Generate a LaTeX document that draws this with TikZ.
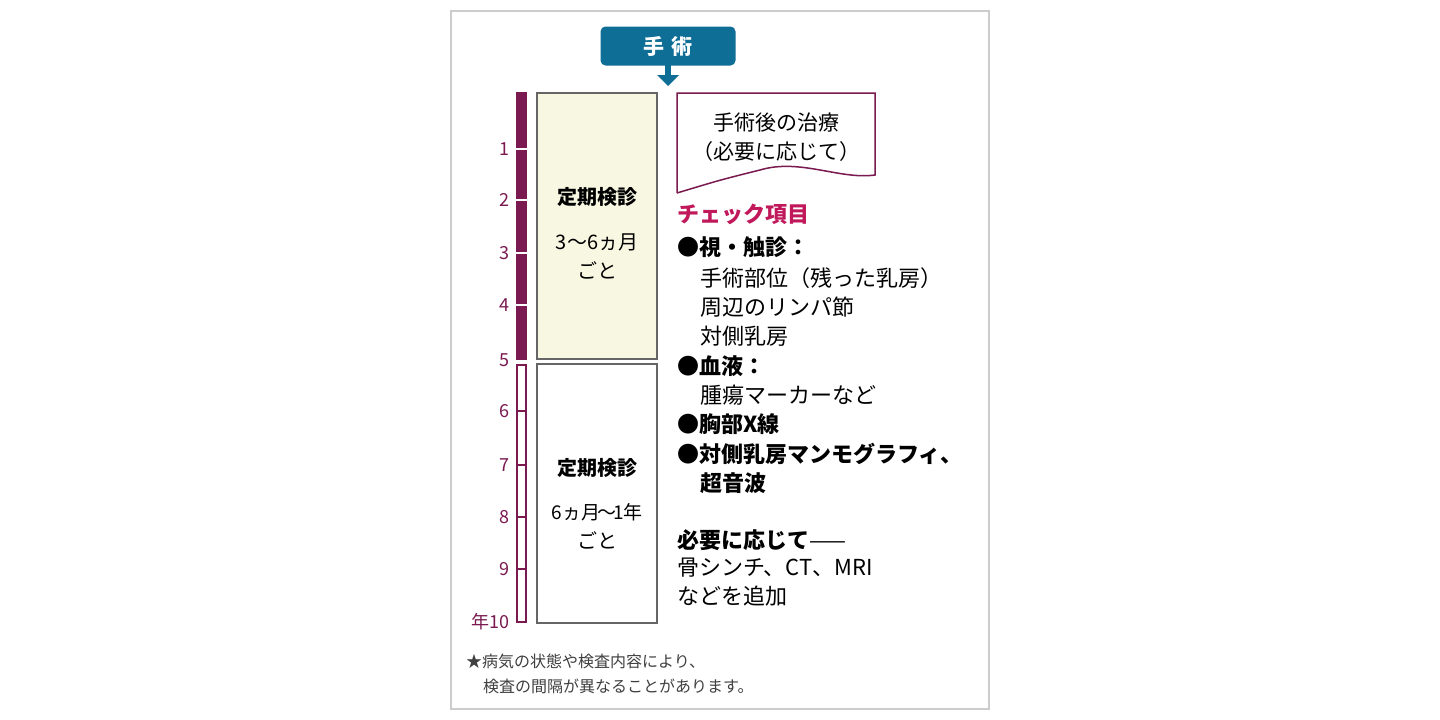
\documentclass[tikz,border=0pt]{standalone}
\usepackage{fontspec}
\setmainfont{Noto Sans CJK JP}
\definecolor{plum}{HTML}{7A1A50}
\definecolor{teal}{HTML}{0F6E96}
\definecolor{crim}{HTML}{C0185A}
\definecolor{cream}{HTML}{F7F7E2}
\begin{document}
\begin{tikzpicture}[x=1pt,y=-1pt,
  txt/.style={inner sep=0,font=\fontsize{20}{22}\selectfont},
  btxt/.style={inner sep=0,font=\fontsize{20}{22}\selectfont\bfseries},
  yr/.style={inner sep=0,anchor=east,text=plum,font=\fontsize{18}{20}\selectfont},
  lst/.style={inner sep=0,anchor=west,font=\fontsize{22}{24}\selectfont},
  blst/.style={lst,font=\fontsize{22}{24}\selectfont\bfseries},
  checkbox/.style={draw=black!60,line width=1.5pt}]
\useasboundingbox (0,0) rectangle (1440,720);
\fill[white] (0,0) rectangle (1440,720);
\draw[black!20,line width=2pt] (451,11) rectangle (989,709);
% surgery
\node[fill=teal,rounded corners=5pt,minimum width=135pt,minimum height=39pt,text=white,font=\fontsize{21}{22}\selectfont\bfseries] (op) at (668,46) {手\,\,術};
\coordinate (tip) at (668,86);
\fill[teal] (665,65) rectangle (671,76);
\fill[teal] (657,75) -- (679,75) -- (tip) -- cycle;
% timeline bar
\fill[plum] (516,92) rectangle (527,360);
\foreach \y in {149,200,253,305} \draw[white,line width=1.5pt] (516,\y) -- (527,\y);
\draw[plum,line width=1.5pt] (517,365) rectangle (526,622);
\foreach \y in {411,465,517,569} \draw[plum,line width=1.5pt] (517,\y) -- (526,\y);
\foreach \n/\y in {1/149,2/200,3/253,4/305,5/360,6/411,7/465,8/517,9/569}
  \node[yr] (y\n) at (510,\y) {\n};
\node[yr] (y10) at (510,622) {年10};
% boxes
\node[checkbox,fill=cream,minimum width=120pt,minimum height=266pt,inner sep=0] (b1) at (597,226) {};
\node[btxt] (b1a) at (597,197) {定期検診};
\node[txt] (b1b) at (597,242) {3\char"301C 6ヵ月};
\node[txt] (b1c) at (597,270) {ごと};
\node[checkbox,fill=white,minimum width=120pt,minimum height=259pt,inner sep=0] (b2) at (597,493.5) {};
\node[btxt] (b2a) at (597,468) {定期検診};
\node[txt,font=\fontsize{19}{22}\selectfont] (b2b) at (597,512) {6ヵ月\kern-3pt\char"301C\kern-3pt 1年};
\node[txt] (b2c) at (597,540) {ごと};
% callout
\draw[plum,line width=1.5pt] (677,193) -- (677,93) -- (875,93) -- (875,175)
  .. controls (840,180) and (800,158) .. (760,170) .. controls (720,180) .. (677,193);
\node[txt,font=\fontsize{21}{22}\selectfont] (c1) at (776,123) {手術後の治療};
\node[txt,font=\fontsize{21}{22}\selectfont] (c2) at (776,152) {（必要に応じて）};
% list
\node[blst,text=crim] (h) at (677,214) {チェック項目};
\node[blst] (l1) at (677,247) {●視・触診：};
\node[lst] (l2) at (700,278) {手術部位（残った乳房）};
\node[lst] (l3) at (700,307) {周辺のリンパ節};
\node[lst] (l4) at (700,336) {対側乳房};
\node[blst] (l5) at (677,366) {●血液：};
\node[lst] (l6) at (700,395) {腫瘍マーカーなど};
\node[blst] (l7) at (677,424) {●胸部X線};
\node[blst] (l8) at (677,454) {●対側乳房マンモグラフィ、};
\node[blst] (l9) at (700,483) {超音波};
\node[lst] (n1) at (677,540) {\textbf{必要に応じて}——};
\node[lst] (n2) at (677,568) {骨シンチ、CT、MRI};
\node[lst] (n3) at (677,596) {などを追加};
% note
\node[lst,text=black!75,font=\fontsize{16}{18}\selectfont] (f1) at (466,661) {★病気の状態や検査内容により、};
\node[lst,text=black!75,font=\fontsize{16}{18}\selectfont] (f2) at (483,686) {検査の間隔が異なることがあります。};
\end{tikzpicture}
\end{document}
